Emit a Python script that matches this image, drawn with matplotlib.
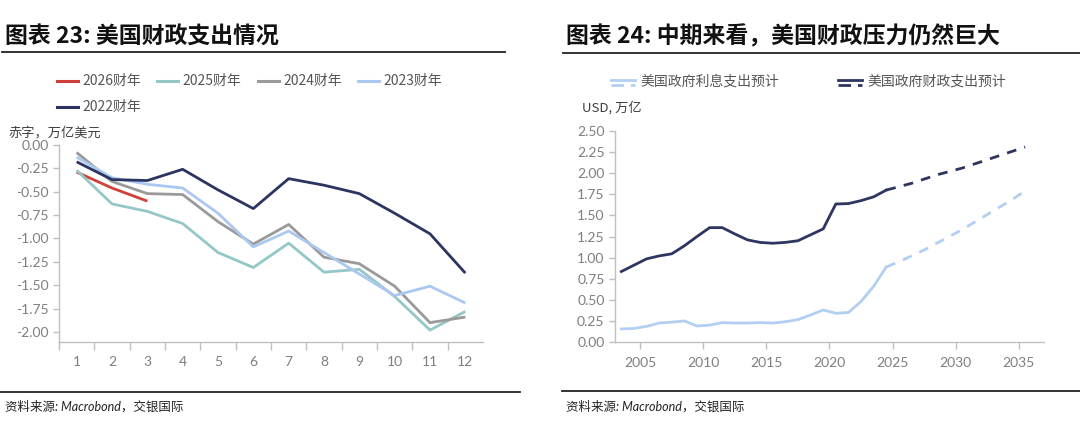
import numpy as np
import matplotlib.pyplot as plt
from matplotlib.lines import Line2D

plt.rcParams['font.family'] = ['Noto Sans CJK SC', 'DejaVu Sans']

W, H = 1080, 438

# ---- left chart data: monthly cumulative deficit, trillion USD
months = np.arange(1, 13)
fy2026 = [-0.29, -0.46, -0.60]
fy2025 = [-0.27, -0.63, -0.71, -0.84, -1.15, -1.31, -1.05, -1.36, -1.33, -1.62, -1.98, -1.78]
fy2024 = [-0.08, -0.39, -0.52, -0.53, -0.82, -1.06, -0.85, -1.20, -1.27, -1.51, -1.90, -1.84]
fy2023 = [-0.13, -0.35, -0.42, -0.46, -0.73, -1.09, -0.92, -1.15, -1.38, -1.61, -1.51, -1.69]
fy2022 = [-0.18, -0.37, -0.38, -0.26, -0.48, -0.68, -0.36, -0.43, -0.52, -0.73, -0.95, -1.37]
left_series = [("2026财年", fy2026, "#d0403a"),
               ("2025财年", fy2025, "#94c7c5"),
               ("2024财年", fy2024, "#9a9a9a"),
               ("2023财年", fy2023, "#aac8f0"),
               ("2022财年", fy2022, "#2c3462")]

# ---- right chart data: annual, trillion USD (actual to 2024, projection after)
years = np.arange(2003, 2036)
interest = [0.155, 0.16, 0.185, 0.225, 0.235, 0.25, 0.19, 0.20, 0.23, 0.225, 0.225,
            0.23, 0.225, 0.24, 0.265, 0.32, 0.38, 0.34, 0.35, 0.48, 0.66, 0.89,
            0.95, 1.02, 1.09, 1.17, 1.25, 1.33, 1.42, 1.51, 1.60, 1.69, 1.79]
spending = [0.835, 0.91, 0.985, 1.02, 1.045, 1.14, 1.25, 1.355, 1.355, 1.28, 1.21,
            1.18, 1.17, 1.18, 1.20, 1.27, 1.34, 1.635, 1.64, 1.675, 1.72, 1.80,
            1.84, 1.88, 1.93, 1.98, 2.02, 2.06, 2.11, 2.16, 2.21, 2.26, 2.31]
last_actual = 2024

tick_font = dict(family=['Lato', 'DejaVu Sans'], size=10, color='#7f7f7f')
spine_c = '#bfbfbf'


def px(x, y):
    return x / W, 1 - y / H


def ax_rect(x0, y0, x1, y1):
    return [x0 / W, 1 - y1 / H, (x1 - x0) / W, (y1 - y0) / H]


def style_axes(ax):
    for s in ['top', 'right']:
        ax.spines[s].set_visible(False)
    for s in ['left', 'bottom']:
        ax.spines[s].set_color(spine_c)
        ax.spines[s].set_linewidth(1.0)
    ax.tick_params(colors=spine_c, labelcolor='#7f7f7f', width=1.0, length=4)
    for lab in ax.get_xticklabels() + ax.get_yticklabels():
        lab.set_fontfamily(tick_font['family'])
        lab.set_fontsize(tick_font['size'])


fig = plt.figure(figsize=(W / 100, H / 100), dpi=100)

# ---------------- titles / rules / sources
fig.text(*px(5, 37), "图表 23: 美国财政支出情况", fontsize=16.5, fontweight='bold',
         va='center', ha='left', color='#111111')
fig.text(*px(566, 37), "图表 24: 中期来看，美国财政压力仍然巨大", fontsize=16.5,
         fontweight='bold', va='center', ha='left', color='#111111')
for (a, b, y) in [(2, 505, 52), (563, 1080, 53), (0, 520, 392), (562, 1080, 391)]:
    fig.add_artist(Line2D([a / W, b / W], [1 - y / H] * 2, color='#222222', lw=1.3))
src = "资料来源: Macrobond，交银国际"
for sx in (5, 566):
    fig.text(*px(sx, 406), src, fontsize=9, style='italic',
             family=['Lato', 'Noto Sans CJK SC'], va='center', ha='left', color='#222222')

# ---------------- left chart
ax1 = fig.add_axes(ax_rect(59, 145, 483, 342))
for name, vals, col in left_series:
    ax1.plot(months[:len(vals)], vals, color=col, lw=2.0, solid_capstyle='butt')
ax1.set_xlim(0.5, 12.5)
ax1.set_ylim(-2.107, 0)
ax1.set_yticks(np.arange(0, -2.01, -0.25))
ax1.set_yticklabels([f"{v:.2f}" for v in np.arange(0, -2.01, -0.25)])
ax1.set_xticks(months)
ax1.set_xticks(np.arange(0.5, 12, 1), minor=True)
style_axes(ax1)
ax1.tick_params(axis='x', which='major', length=0, pad=10)
ax1.tick_params(axis='x', which='minor', length=6, color=spine_c, width=1.0)
fig.text(*px(8, 133), "赤字，万亿美元", fontsize=9.5, color='#404040', va='center', ha='left')

# left legend
leg_pos = [(57, 81), (157, 81), (258, 81), (358, 81), (57, 107)]
for (name, vals, col), (lx, ly) in zip(left_series, leg_pos):
    fig.add_artist(Line2D([lx / W, (lx + 21) / W], [1 - ly / H] * 2, color=col, lw=2.2))
    fig.text(*px(lx + 25, ly), name, fontsize=10, color='#555555', va='center', ha='left')

# ---------------- right chart
ax2 = fig.add_axes(ax_rect(615, 131, 1044, 342))
x = years + 0.5
k = list(years).index(last_actual) + 1
ax2.plot(x[:k], interest[:k], color='#b2cff2', lw=2.0)
ax2.plot(x[k - 1:], interest[k - 1:], color='#b2cff2', lw=2.0, ls=(0, (3.5, 3)))
ax2.plot(x[:k], spending[:k], color='#2e3560', lw=2.0)
ax2.plot(x[k - 1:], spending[k - 1:], color='#2e3560', lw=2.0, ls=(0, (3.5, 3)))
ax2.set_xlim(2003, 2037)
ax2.set_ylim(0, 2.5)
ax2.set_yticks(np.arange(0, 2.51, 0.25))
ax2.set_yticklabels([f"{v:.2f}" for v in np.arange(0, 2.51, 0.25)])
ax2.set_xticks(np.arange(2005, 2036, 5))
style_axes(ax2)
ax2.tick_params(axis='x', length=5, pad=6)
fig.text(*px(582, 108), "USD, 万亿", fontsize=9.5, color='#404040', va='center', ha='left')

# right legend (solid over dashed handles)
for (lx, name, col) in [(611, "美国政府利息支出预计", '#b2cff2'),
                        (838, "美国政府财政支出预计", '#2e3560')]:
    fig.add_artist(Line2D([lx / W, (lx + 24) / W], [1 - 79.5 / H] * 2, color=col, lw=2.0))
    fig.add_artist(Line2D([lx / W, (lx + 24) / W], [1 - 84.5 / H] * 2, color=col, lw=2.0,
                          ls=(0, (4.5, 2.5))))
    fig.text(*px(lx + 29, 82), name, fontsize=10, color='#555555', va='center', ha='left')

fig.savefig('out.png', dpi=100)
